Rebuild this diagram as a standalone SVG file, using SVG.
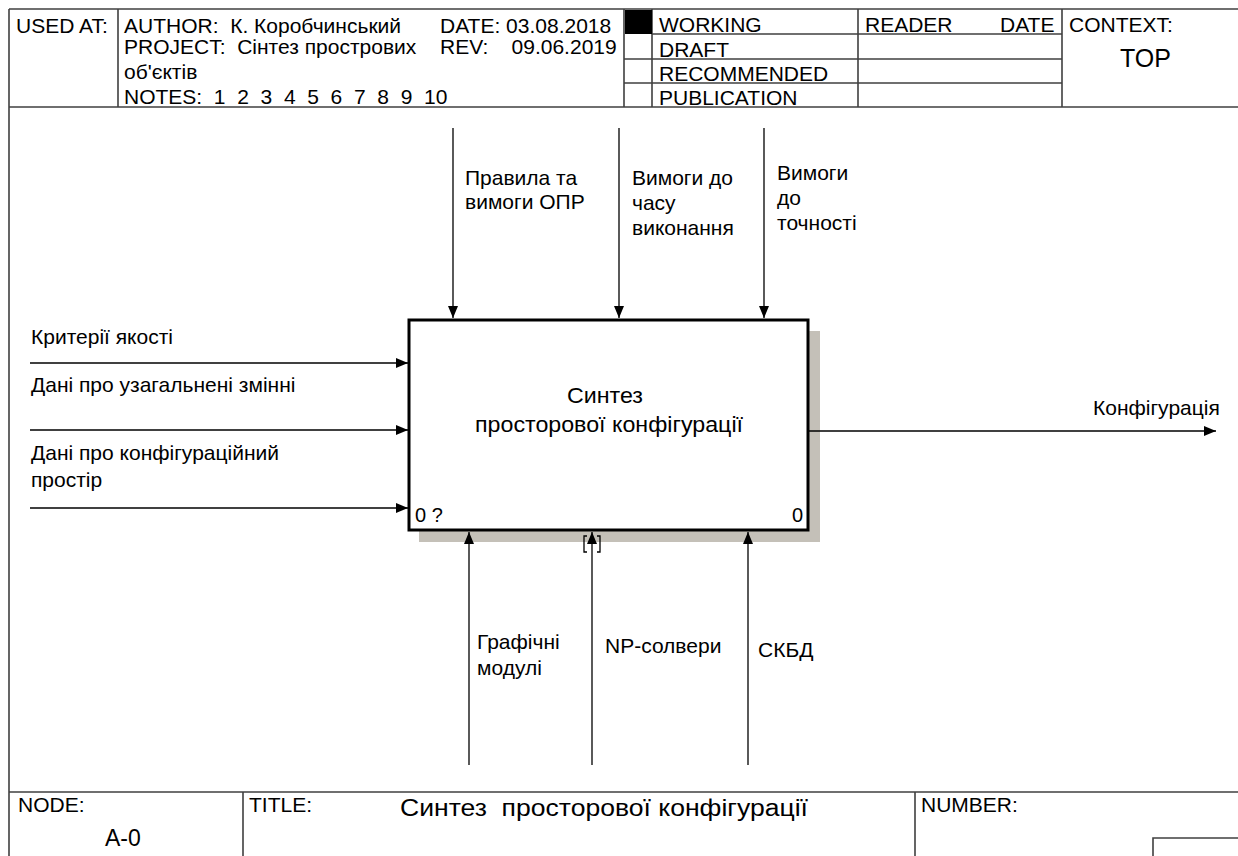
<svg xmlns="http://www.w3.org/2000/svg" width="1238" height="856" viewBox="0 0 1238 856">
<defs>
<marker id="ah" viewBox="0 0 12 10" refX="12" refY="5" markerWidth="12" markerHeight="10" markerUnits="userSpaceOnUse" orient="auto">
<path d="M0,0 L12,5 L0,10 Z" fill="#000"/>
</marker>
</defs>
<style>
text{font-family:"Liberation Sans",Arial,sans-serif;fill:#000}
.h{font-size:21px}
.l{font-size:21px}
.f{stroke:#404040;stroke-width:1.6;fill:none}
.c{stroke:#000;stroke-width:1.3;fill:none;marker-end:url(#ah)}
</style>
<rect width="1238" height="856" fill="#fff"/>
<g id="frame">
<path class="f" d="M9,9 H1238 M9,9 V856 M9,107 H1238 M118,9 V107 M624,9 V107 M652,9 V107 M858,9 V107 M1062,9 V107 M652,34 H1062 M624,59 H1062 M624,83 H1062 M9,792 H1238 M243,792 V856 M915,792 V856 M1153,856 V838 H1238"/>
<rect x="625" y="10" width="27" height="24" fill="#000"/>
<text class="h" x="16" y="33">USED AT:</text>
<text class="h" x="124" y="33" xml:space="preserve">AUTHOR:  К. Коробчинський</text>
<text class="h" x="440" y="33">DATE: 03.08.2018</text>
<text class="h" x="124" y="54" xml:space="preserve">PROJECT:  Сінтез простровиx</text>
<text class="h" x="440" y="54" xml:space="preserve">REV:    09.06.2019</text>
<text class="h" x="124" y="79">об'єктів</text>
<text class="h" x="124" y="104" xml:space="preserve">NOTES:  1  2  3  4  5  6  7  8  9  10</text>
<text class="h" x="659" y="32">WORKING</text>
<text class="h" x="659" y="57">DRAFT</text>
<text class="h" x="659" y="81">RECOMMENDED</text>
<text class="h" x="659" y="105">PUBLICATION</text>
<text class="h" x="865" y="32">READER</text>
<text class="h" x="1000" y="32">DATE</text>
<text class="h" x="1069" y="32">CONTEXT:</text>
<text x="1120" y="67" font-size="25">TOP</text>
<text class="h" x="18" y="812">NODE:</text>
<text x="105" y="846" font-size="23">A-0</text>
<text class="h" x="249" y="812">TITLE:</text>
<text x="400" y="816" font-size="23" textLength="408" lengthAdjust="spacingAndGlyphs" xml:space="preserve">Синтез  просторової конфігурації</text>
<text class="h" x="921" y="812">NUMBER:</text>
</g>
<g id="A0">
<rect x="419" y="331" width="401" height="211" fill="#c4c0b8"/>
<rect x="409" y="320" width="399" height="210" fill="#fff" stroke="#000" stroke-width="3"/>
<text x="605" y="403" font-size="21.5" text-anchor="middle" textLength="76" lengthAdjust="spacingAndGlyphs">Синтез</text>
<text x="609" y="432" font-size="21.5" text-anchor="middle" textLength="268" lengthAdjust="spacingAndGlyphs">просторової конфігурації</text>
<text x="415" y="522" font-size="20">0 ?</text>
<text x="792" y="522" font-size="20">0</text>
</g>
<g id="connectors">
<path class="c" d="M30,363 H408"/>
<path class="c" d="M30,430 H408"/>
<path class="c" d="M30,508 H408"/>
<path class="c" d="M453,128 V318"/>
<path class="c" d="M619,128 V318"/>
<path class="c" d="M764,128 V318"/>
<path class="c" d="M809,431 H1216"/>
<path class="c" d="M469,765 V532"/>
<path class="c" d="M592,765 V532"/>
<path class="c" d="M748,765 V532"/>
<path d="M587,536 H584 V552 H587 M597,536 H600 V552 H597" stroke="#000" stroke-width="1.3" fill="none"/>
</g>
<g id="labels">
<text class="l" x="31" y="344">Критерії якості</text>
<text class="l" x="31" y="392">Дані про узагальнені змінні</text>
<text class="l" x="31" y="460">Дані про конфігураційний</text>
<text class="l" x="31" y="487">простір</text>
<text class="l" x="465" y="185">Правила та</text>
<text class="l" x="465" y="209">вимоги ОПР</text>
<text class="l" x="632" y="185">Вимоги до</text>
<text class="l" x="632" y="210">часу</text>
<text class="l" x="632" y="235">виконання</text>
<text class="l" x="777" y="180">Вимоги</text>
<text class="l" x="777" y="205">до</text>
<text class="l" x="777" y="230">точності</text>
<text class="l" x="1093" y="415">Конфігурація</text>
<text class="l" x="477" y="649">Графічні</text>
<text class="l" x="477" y="675">модулі</text>
<text class="l" x="605" y="653">NP-солвери</text>
<text class="l" x="758" y="657">СКБД</text>
</g>
</svg>
